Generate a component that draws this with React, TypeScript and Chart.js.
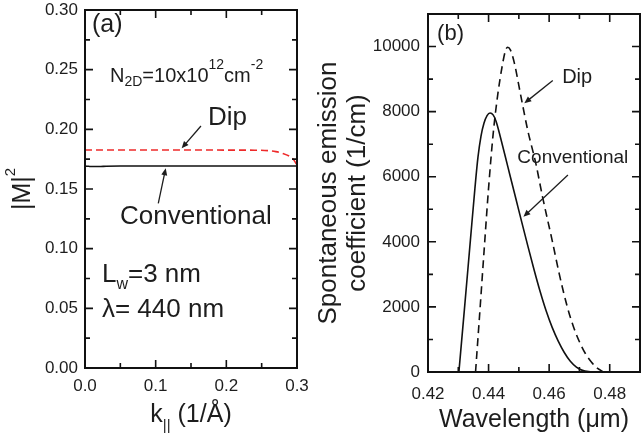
import React, { useEffect, useRef } from "react";
import { Chart, registerables } from "chart.js";

Chart.register(...registerables);

const FONT = "'Liberation Sans', Arial, Helvetica, sans-serif";
const INK = "#1d1d1d";

// (a) |M|^2 against in-plane wave vector k (1/Å)
const kConventional = [0, 0.005, 0.01, 0.02, 0.03, 0.05, 0.1, 0.15, 0.2, 0.25, 0.3];
const m2Conventional = [0.1692, 0.169, 0.1688, 0.1688, 0.1691, 0.1693, 0.1693, 0.1693, 0.1693, 0.1693, 0.1693];
const kDip = [0, 0.05, 0.1, 0.15, 0.2, 0.24, 0.26, 0.27, 0.28, 0.29, 0.295, 0.3];
const m2Dip = [0.1827, 0.1827, 0.1827, 0.1827, 0.1826, 0.1825, 0.1821, 0.1813, 0.1798, 0.1772, 0.1748, 0.17];

// (b) spontaneous emission coefficient (1/cm) against wavelength (µm)
const wlConventional = [
  0.4302, 0.432, 0.434, 0.4355, 0.4365, 0.4375, 0.4385, 0.4395, 0.4405, 0.4415, 0.4425, 0.444,
  0.4455, 0.447, 0.449, 0.451, 0.453, 0.455, 0.457, 0.459, 0.461, 0.463, 0.465, 0.467, 0.469, 0.471, 0.474,
];
const spConventional = [
  0, 1900, 4050, 5650, 6600, 7250, 7650, 7880, 7960, 7900, 7700, 7180,
  6630, 6070, 5330, 4590, 3860, 3150, 2480, 1880, 1370, 950, 600, 330, 150, 50, 0,
];
const wlDip = [
  0.4357, 0.437, 0.4385, 0.44, 0.4415, 0.443, 0.4445, 0.4455, 0.4463, 0.4472, 0.4485, 0.4507,
  0.4529, 0.4556, 0.4578, 0.4611, 0.4633, 0.466, 0.468, 0.47, 0.472, 0.474, 0.476, 0.478,
];
const spDip = [
  0, 1700, 3700, 5650, 7300, 8500, 9400, 9850, 9980, 9900, 9500, 8460,
  7440, 6410, 5390, 4000, 3030, 2000, 1400, 930, 560, 300, 110, 0,
];

// tick values and labels
const kTickValues = [0, 0.1, 0.2, 0.3];
const kTickLabels = ["0.0", "0.1", "0.2", "0.3"];
const kMinorTicks = [0.05, 0.15, 0.25];
const m2TickValues = [0, 0.05, 0.1, 0.15, 0.2, 0.25, 0.3];
const m2TickLabels = ["0.00", "0.05", "0.10", "0.15", "0.20", "0.25", "0.30"];
const m2MinorTicks = [0.025, 0.075, 0.125, 0.175, 0.225, 0.275];
const wlTickValues = [0.42, 0.44, 0.46, 0.48];
const wlTickLabels = ["0.42", "0.44", "0.46", "0.48"];
const wlMinorTicks = [0.43, 0.45, 0.47];
const spTickValues = [0, 2000, 4000, 6000, 8000, 10000];
const spTickLabels = ["0", "2000", "4000", "6000", "8000", "10000"];
const spMinorTicks = [1000, 3000, 5000, 7000, 9000];

type Seg = { t: string; size: number; dy?: number };
type Note =
  | { kind: "text"; x: number; y: number; segs: Seg[] }
  | { kind: "arrow"; x1: number; y1: number; x2: number; y2: number };

function segWidth(ctx: CanvasRenderingContext2D, segs: Seg[]) {
  let w = 0;
  for (const s of segs) {
    ctx.font = `${s.size}px ${FONT}`;
    w += ctx.measureText(s.t).width;
  }
  return w;
}

function drawRich(
  ctx: CanvasRenderingContext2D,
  segs: Seg[],
  x: number,
  y: number,
  align: "left" | "center" = "left",
  rot = 0
) {
  ctx.save();
  ctx.translate(x, y);
  if (rot) ctx.rotate(rot);
  ctx.fillStyle = INK;
  ctx.textAlign = "left";
  ctx.textBaseline = "alphabetic";
  let cx = align === "center" ? -segWidth(ctx, segs) / 2 : 0;
  for (const s of segs) {
    ctx.font = `${s.size}px ${FONT}`;
    ctx.fillText(s.t, cx, s.dy || 0);
    cx += ctx.measureText(s.t).width;
  }
  ctx.restore();
}

function drawArrow(ctx: CanvasRenderingContext2D, x1: number, y1: number, x2: number, y2: number) {
  const a = Math.atan2(y2 - y1, x2 - x1);
  const len = 7;
  const hw = 3;
  ctx.save();
  ctx.strokeStyle = INK;
  ctx.fillStyle = INK;
  ctx.lineWidth = 1.3;
  ctx.beginPath();
  ctx.moveTo(x1, y1);
  ctx.lineTo(x2 - Math.cos(a) * len * 0.6, y2 - Math.sin(a) * len * 0.6);
  ctx.stroke();
  ctx.beginPath();
  ctx.moveTo(x2, y2);
  ctx.lineTo(x2 - Math.cos(a) * len - Math.sin(a) * hw, y2 - Math.sin(a) * len + Math.cos(a) * hw);
  ctx.lineTo(x2 - Math.cos(a) * len + Math.sin(a) * hw, y2 - Math.sin(a) * len - Math.cos(a) * hw);
  ctx.closePath();
  ctx.fill();
  ctx.restore();
}

// Box frame with inward major/minor ticks on all four sides, plus text notes and arrows
const framePlugin = {
  id: "frameNotes",
  afterDatasetsDraw(chart: any, _args: any, opts: any) {
    const { ctx, chartArea: a, scales } = chart;
    const xs = scales.x;
    const ys = scales.y;
    ctx.save();
    ctx.strokeStyle = "#111";
    ctx.lineWidth = 2;
    ctx.strokeRect(a.left, a.top, a.right - a.left, a.bottom - a.top);
    ctx.lineWidth = 1.6;
    const tickX = (vals: number[], len: number) => {
      for (const v of vals) {
        const p = xs.getPixelForValue(v);
        ctx.beginPath();
        ctx.moveTo(p, a.bottom);
        ctx.lineTo(p, a.bottom - len);
        ctx.moveTo(p, a.top);
        ctx.lineTo(p, a.top + len);
        ctx.stroke();
      }
    };
    const tickY = (vals: number[], len: number) => {
      for (const v of vals) {
        const p = ys.getPixelForValue(v);
        ctx.beginPath();
        ctx.moveTo(a.left, p);
        ctx.lineTo(a.left + len, p);
        ctx.moveTo(a.right, p);
        ctx.lineTo(a.right - len, p);
        ctx.stroke();
      }
    };
    tickX(opts.xMajor, 8);
    tickX(opts.xMinor, 5);
    tickY(opts.yMajor, 8);
    tickY(opts.yMinor, 5);
    ctx.restore();

    for (const n of opts.notes as Note[]) {
      if (n.kind === "text") {
        drawRich(ctx, n.segs, xs.getPixelForValue(n.x), ys.getPixelForValue(n.y));
      } else {
        drawArrow(
          ctx,
          xs.getPixelForValue(n.x1),
          ys.getPixelForValue(n.y1),
          xs.getPixelForValue(n.x2),
          ys.getPixelForValue(n.y2)
        );
      }
    }
    if (opts.draw) opts.draw(chart);
  },
};

const tickFont = { family: FONT, size: 17 };

function fixedTicks(values: number[]) {
  return (s: any) => {
    s.ticks = values.map((value) => ({ value }));
  };
}

function PanelA() {
  const ref = useRef<HTMLCanvasElement>(null);
  useEffect(() => {
    const chart = new Chart(ref.current!, {
      type: "line",
      data: {
        datasets: [
          {
            data: kConventional.map((x, i) => ({ x, y: m2Conventional[i] })),
            borderColor: "#111",
            borderWidth: 1.6,
            pointRadius: 0,
            cubicInterpolationMode: "monotone",
          },
          {
            data: kDip.map((x, i) => ({ x, y: m2Dip[i] })),
            borderColor: "#ee2a2a",
            borderWidth: 1.6,
            borderDash: [7, 4],
            pointRadius: 0,
            cubicInterpolationMode: "monotone",
          },
        ],
      },
      options: {
        responsive: false,
        animation: false,
        events: [],
        layout: { padding: { top: 10, right: 23, left: 0, bottom: 0 } },
        plugins: {
          legend: { display: false },
          tooltip: { enabled: false },
          frameNotes: {
            xMajor: kTickValues,
            xMinor: kMinorTicks,
            yMajor: m2TickValues,
            yMinor: m2MinorTicks,
            notes: [
              { kind: "text", x: 0.0099, y: 0.2816, segs: [{ t: "(a)", size: 25 }] },
              {
                kind: "text",
                x: 0.0354,
                y: 0.2397,
                segs: [
                  { t: "N", size: 20 },
                  { t: "2D", size: 14, dy: 4 },
                  { t: "=10x10", size: 20 },
                  { t: "12", size: 14, dy: -13 },
                  { t: "cm", size: 20 },
                  { t: "-2", size: 14, dy: -13 },
                ],
              },
              { kind: "text", x: 0.174, y: 0.2036, segs: [{ t: "Dip", size: 26 }] },
              { kind: "arrow", x1: 0.1641, y1: 0.2028, x2: 0.1368, y2: 0.1841 },
              { kind: "text", x: 0.0495, y: 0.1204, segs: [{ t: "Conventional", size: 26 }] },
              { kind: "arrow", x1: 0.1037, y1: 0.138, x2: 0.1142, y2: 0.1673 },
              {
                kind: "text",
                x: 0.024,
                y: 0.0723,
                segs: [
                  { t: "L", size: 26 },
                  { t: "w", size: 16, dy: 7 },
                  { t: "=3 nm", size: 26 },
                ],
              },
              { kind: "text", x: 0.024, y: 0.043, segs: [{ t: "λ= 440 nm", size: 26 }] },
            ],
            draw: (c: any) => {
              const ctx = c.ctx;
              const a = c.chartArea;
              // y title |M|^2
              drawRich(
                ctx,
                [
                  { t: "|M|", size: 25 },
                  { t: "2", size: 15, dy: -15 },
                ],
                30,
                (a.top + a.bottom) / 2,
                "center",
                -Math.PI / 2
              );
              // x title k|| (1/Å)
              drawRich(
                ctx,
                [
                  { t: "k", size: 25 },
                  { t: "||", size: 15, dy: 8 },
                  { t: " (1/Å)", size: 25 },
                ],
                (a.left + a.right) / 2,
                422,
                "center"
              );
            },
          },
        } as any,
        scales: {
          x: {
            type: "linear",
            min: 0,
            max: 0.3,
            grid: { display: false, drawTicks: false },
            border: { display: false },
            afterBuildTicks: fixedTicks(kTickValues),
            afterFit: (s: any) => {
              s.height = 68;
              s.paddingLeft = 0;
              s.paddingRight = 0;
            },
            ticks: {
              font: tickFont,
              color: INK,
              padding: 8,
              maxRotation: 0,
              autoSkip: false,
              callback: (_v: any, i: number) => kTickLabels[i],
            },
          },
          y: {
            type: "linear",
            min: 0,
            max: 0.3,
            grid: { display: false, drawTicks: false },
            border: { display: false },
            afterBuildTicks: fixedTicks(m2TickValues),
            afterFit: (s: any) => {
              s.width = 85;
              s.paddingTop = 0;
              s.paddingBottom = 0;
            },
            ticks: {
              font: tickFont,
              color: INK,
              padding: 7,
              autoSkip: false,
              callback: (_v: any, i: number) => m2TickLabels[i],
            },
          },
        },
      },
      plugins: [framePlugin],
    } as any);
    return () => chart.destroy();
  }, []);
  return (
    <canvas
      ref={ref}
      width={320}
      height={436}
      style={{ position: "absolute", left: 0, top: 0, width: 320, height: 436 }}
    />
  );
}

function PanelB() {
  const ref = useRef<HTMLCanvasElement>(null);
  useEffect(() => {
    const chart = new Chart(ref.current!, {
      type: "line",
      data: {
        datasets: [
          {
            data: wlConventional.map((x, i) => ({ x, y: spConventional[i] })),
            borderColor: "#111",
            borderWidth: 1.6,
            pointRadius: 0,
            cubicInterpolationMode: "monotone",
          },
          {
            data: wlDip.map((x, i) => ({ x, y: spDip[i] })),
            borderColor: "#111",
            borderWidth: 1.6,
            borderDash: [8, 5],
            pointRadius: 0,
            cubicInterpolationMode: "monotone",
          },
        ],
      },
      options: {
        responsive: false,
        animation: false,
        events: [],
        layout: { padding: { top: 14, right: 1, left: 0, bottom: 0 } },
        plugins: {
          legend: { display: false },
          tooltip: { enabled: false },
          frameNotes: {
            xMajor: wlTickValues,
            xMinor: wlMinorTicks,
            yMajor: spTickValues,
            yMinor: spMinorTicks,
            notes: [
              { kind: "text", x: 0.423, y: 10206, segs: [{ t: "(b)", size: 22 }] },
              { kind: "text", x: 0.4643, y: 8892, segs: [{ t: "Dip", size: 20 }] },
              { kind: "arrow", x1: 0.4612, y1: 8954, x2: 0.4518, y2: 8258 },
              { kind: "text", x: 0.4495, y: 6412, segs: [{ t: "Conventional", size: 19 }] },
              { kind: "arrow", x1: 0.4662, y1: 6052, x2: 0.4515, y2: 4769 },
            ],
          },
        } as any,
        scales: {
          x: {
            type: "linear",
            min: 0.42,
            max: 0.49,
            grid: { display: false, drawTicks: false },
            border: { display: false },
            afterBuildTicks: fixedTicks(wlTickValues),
            afterFit: (s: any) => {
              s.height = 64;
              s.paddingLeft = 0;
              s.paddingRight = 0;
            },
            title: {
              display: true,
              text: "Wavelength (μm)",
              font: { family: FONT, size: 25 },
              color: INK,
              padding: { top: 0, bottom: 1 },
            },
            ticks: {
              font: tickFont,
              color: INK,
              padding: 12,
              maxRotation: 0,
              autoSkip: false,
              callback: (_v: any, i: number) => wlTickLabels[i],
            },
          },
          y: {
            type: "linear",
            min: 0,
            max: 11000,
            grid: { display: false, drawTicks: false },
            border: { display: false },
            afterBuildTicks: fixedTicks(spTickValues),
            afterFit: (s: any) => {
              s.width = 128;
              s.paddingTop = 0;
              s.paddingBottom = 0;
            },
            title: {
              display: true,
              text: ["Spontaneous emission", "coefficient (1/cm)"],
              font: { family: FONT, size: 26, lineHeight: 1.1 },
              color: INK,
              padding: { top: 15, bottom: 0 },
            },
            ticks: {
              font: tickFont,
              color: INK,
              padding: 8,
              autoSkip: false,
              callback: (_v: any, i: number) => spTickLabels[i],
            },
          },
        },
      },
      plugins: [framePlugin],
    } as any);
    return () => chart.destroy();
  }, []);
  return (
    <canvas
      ref={ref}
      width={341}
      height={436}
      style={{ position: "absolute", left: 300, top: 0, width: 341, height: 436 }}
    />
  );
}

export default function App() {
  return (
    <div
      style={{
        position: "absolute",
        left: 0,
        top: 0,
        width: 641,
        height: 436,
        background: "#fff",
        overflow: "hidden",
      }}
    >
      <PanelA />
      <PanelB />
    </div>
  );
}
